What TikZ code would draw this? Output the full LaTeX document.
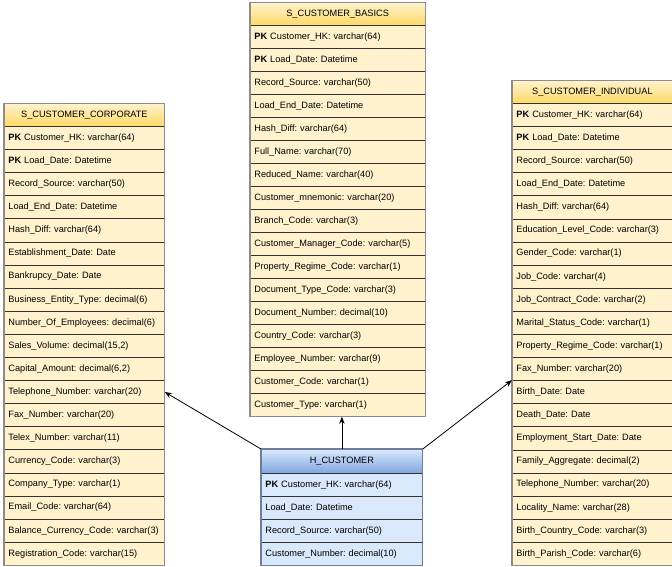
\documentclass[tikz,border=0pt]{standalone}
\usepackage{fontspec}
\setmainfont{Liberation Sans}
\frenchspacing
\usetikzlibrary{arrows.meta}
\definecolor{rowy}{HTML}{FFF2CC}
\definecolor{hdry}{HTML}{FFD966}
\definecolor{rowb}{HTML}{DAE8FC}
\definecolor{hdrb}{HTML}{7EA6E0}
\definecolor{linec}{HTML}{333333}
\definecolor{framey}{HTML}{8C8C8C}
\definecolor{frameb}{HTML}{6C7E9A}
\tikzset{
  cell/.style={rectangle, draw=linec, line width=0.8pt, inner xsep=4pt, inner ysep=0pt,
    font=\fontsize{9.2}{11}\selectfont},
  rowy/.style={cell, fill=rowy, align=left},
  rowb/.style={cell, fill=rowb, align=left},
  hdry/.style={cell, top color=rowy, bottom color=hdry, align=center},
  hdrb/.style={cell, top color=rowb, bottom color=hdrb, align=center},
  link/.style={draw=black, line width=0.8pt, -{Stealth[length=7pt,width=5.5pt]}},
  framey/.style={draw=framey, line width=1.2pt},
  frameb/.style={draw=frameb, line width=1.2pt}
}
% #1 name, #2 x, #3 y, #4 width, #5 header height, #6 row height, #7 kind, #8 title, #9 rows
\newcommand\ertable[9]{%
  \pgfmathsetmacro\ertw{#4-8}%
  \node[hdr#7, text width=\ertw pt, minimum height=#5pt, anchor=north west] (#1) at (#2,#3) {#8};
  \foreach \t [count=\i] in {#9} {
    \pgfmathsetmacro\yy{#3+#5+(\i-1)*#6}
    \node[row#7, text width=\ertw pt, minimum height=#6pt, anchor=north west] (#1-\i) at (#2,\yy) {\t};
  }
}
\begin{document}
\begin{tikzpicture}[x=1pt,y=-1pt]
\useasboundingbox (0,0) rectangle (672,567);
\clip (0,0) rectangle (672,567);

\ertable{corp}{4}{103.5}{160}{22.5}{23.1}{y}{S\_CUSTOMER\_CORPORATE}{
{\textbf{PK} Customer\_HK: varchar(64)},
{\textbf{PK} Load\_Date: Datetime},
{Record\_Source: varchar(50)},
{Load\_End\_Date: Datetime},
{Hash\_Diff: varchar(64)},
{Establishment\_Date: Date},
{Bankrupcy\_Date: Date},
{Business\_Entity\_Type: decimal(6)},
{Number\_Of\_Employees: decimal(6)},
{Sales\_Volume: decimal(15,2)},
{Capital\_Amount: decimal(6,2)},
{Telephone\_Number: varchar(20)},
{Fax\_Number: varchar(20)},
{Telex\_Number: varchar(11)},
{Currency\_Code: varchar(3)},
{Company\_Type: varchar(1)},
{Email\_Code: varchar(64)},
{Balance\_Currency\_Code: varchar(3)},
{Registration\_Code: varchar(15)}}
\draw[framey] (corp.north west) rectangle (corp-19.south east);

\ertable{bas}{250}{2.5}{174.5}{22.5}{23}{y}{S\_CUSTOMER\_BASICS}{
{\textbf{PK} Customer\_HK: varchar(64)},
{\textbf{PK} Load\_Date: Datetime},
{Record\_Source: varchar(50)},
{Load\_End\_Date: Datetime},
{Hash\_Diff: varchar(64)},
{Full\_Name: varchar(70)},
{Reduced\_Name: varchar(40)},
{Customer\_mnemonic: varchar(20)},
{Branch\_Code: varchar(3)},
{Customer\_Manager\_Code: varchar(5)},
{Property\_Regime\_Code: varchar(1)},
{Document\_Type\_Code: varchar(3)},
{Document\_Number: decimal(10)},
{Country\_Code: varchar(3)},
{Employee\_Number: varchar(9)},
{Customer\_Code: varchar(1)},
{Customer\_Type: varchar(1)}}
\draw[framey] (bas.north west) rectangle (bas-17.south east);

\ertable{ind}{512}{80.5}{160}{22.5}{23.1}{y}{S\_CUSTOMER\_INDIVIDUAL}{
{\textbf{PK} Customer\_HK: varchar(64)},
{\textbf{PK} Load\_Date: Datetime},
{Record\_Source: varchar(50)},
{Load\_End\_Date: Datetime},
{Hash\_Diff: varchar(64)},
{Education\_Level\_Code: varchar(3)},
{Gender\_Code: varchar(1)},
{Job\_Code: varchar(4)},
{Job\_Contract\_Code: varchar(2)},
{Marital\_Status\_Code: varchar(1)},
{Property\_Regime\_Code: varchar(1)},
{Fax\_Number: varchar(20)},
{Birth\_Date: Date},
{Death\_Date: Date},
{Employment\_Start\_Date: Date},
{Family\_Aggregate: decimal(2)},
{Telephone\_Number: varchar(20)},
{Locality\_Name: varchar(28)},
{Birth\_Country\_Code: varchar(3)},
{Birth\_Parish\_Code: varchar(6)}}
\draw[framey] (ind.north west) rectangle (ind-20.south east);

\ertable{hub}{261}{449}{161}{24}{23}{b}{H\_CUSTOMER}{
{\textbf{PK} Customer\_HK: varchar(64)},
{Load\_Date: Datetime},
{Record\_Source: varchar(50)},
{Customer\_Number: decimal(10)}}
\draw[frameb] (hub.north west) rectangle (hub-4.south east);

\draw[link] (hub.north west) -- (corp-12.east);
\draw[link] (hub.north) -- (hub.north |- bas-17.south);
\draw[link] (hub.north east) -- (ind-13.north west);
\end{tikzpicture}
\end{document}
